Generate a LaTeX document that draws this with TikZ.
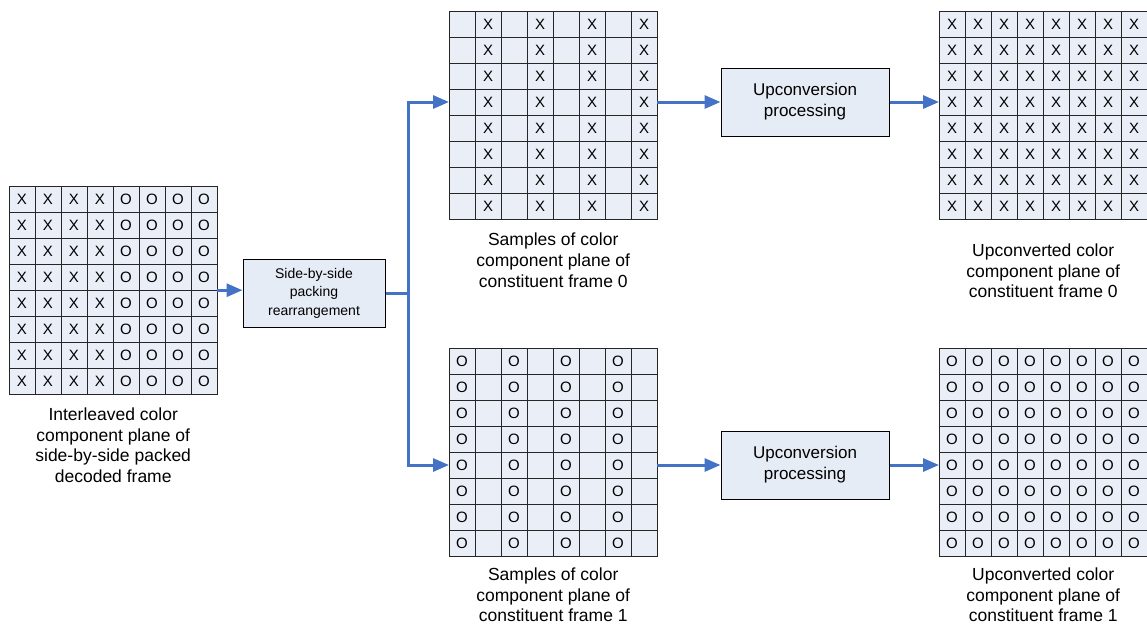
\documentclass[tikz,border=0pt]{standalone}
\usepackage{fontspec}
\setmainfont{Liberation Sans}
\usepackage{tikz}
\usetikzlibrary{positioning, calc, arrows.meta}
\usepackage{xcolor}

\definecolor{planefill}{HTML}{E9EEF7}
\definecolor{boxfill}{HTML}{E6ECF6}
\definecolor{flowblue}{HTML}{4472C4}

% 8x8 colour component plane, #4 = letters of the 8 columns
\newcommand{\colorplane}[4]{%
    \node[plane, anchor = north west] (#1) at (#2,#3) {};
    \foreach \letter [count = \col from 0] in {#4}
        \foreach \row in {0,...,7}
            \node[cell] at ($(#1.north west) + (\col*26 + 13, \row*26 + 13)$) {\letter};
}

\begin{document}
\begin{tikzpicture}[x = 1pt, y = -1pt,
        plane/.style = {minimum size = 208pt, inner sep = 0pt},
        cell/.style = {draw = black!85, fill = planefill, line width = 1pt,
            minimum size = 26pt, inner sep = 0pt, font = \fontsize{15}{16}\selectfont},
        proc/.style = {draw, fill = boxfill, line width = 1pt, minimum width = 168pt,
            minimum height = 68pt, align = center, font = \fontsize{17}{21}\selectfont},
        caption/.style = {align = center, inner sep = 0pt, font = \fontsize{17.5}{20.8}\selectfont},
        flow/.style = {draw = flowblue, line width = 3pt, -{Triangle[length = 16pt, width = 13pt]}}]
        \useasboundingbox (0,0) rectangle (1147,625);

        % Planes
        \colorplane{inter}{9}{186}{X,X,X,X,O,O,O,O}
        \colorplane{samp0}{449}{11}{{},X,{},X,{},X,{},X}
        \colorplane{up0}{939}{11}{X,X,X,X,X,X,X,X}
        \colorplane{samp1}{449}{348}{O,{},O,{},O,{},O,{}}
        \colorplane{up1}{939}{348}{O,O,O,O,O,O,O,O}

        % Processing boxes
        \node[proc, minimum width = 142pt, font = \fontsize{14}{18.5}\selectfont] (pack) at (314,293)
            {Side-by-side\\packing\\rearrangement};
        \node[proc] (upc0) at (805,102) {Upconversion\\processing};
        \node[proc] (upc1) at (805,465) {Upconversion\\processing};

        % Captions
        \node[caption, below = 13pt of inter] (inter-cap)
            {Interleaved color\\component plane of\\side-by-side packed\\decoded frame};
        \node[caption, below = 13.5pt of samp0] (samp0-cap)
            {Samples of color\\component plane of\\constituent frame 0};
        \node[caption, below = 24pt of up0] (up0-cap)
            {Upconverted color\\component plane of\\constituent frame 0};
        \node[caption, below = 11pt of samp1] (samp1-cap)
            {Samples of color\\component plane of\\constituent frame 1};
        \node[caption, below = 11pt of up1] (up1-cap)
            {Upconverted color\\component plane of\\constituent frame 1};

        % Flow
        \coordinate (split) at ($(pack.east) + (23,0)$);
        \draw[flow] (inter.east) -- (inter.east -| pack.west);
        \draw[flow, -] (pack.east) -- (split);
        \draw[flow] (split) |- (samp0.west |- upc0);
        \draw[flow] (split) |- (samp1.west |- upc1);
        \draw[flow] (samp0.east |- upc0) -- (upc0.west);
        \draw[flow] (samp1.east |- upc1) -- (upc1.west);
        \draw[flow] (upc0.east) -- (up0.west |- upc0);
        \draw[flow] (upc1.east) -- (up1.west |- upc1);
    \end{tikzpicture}
\end{document}
